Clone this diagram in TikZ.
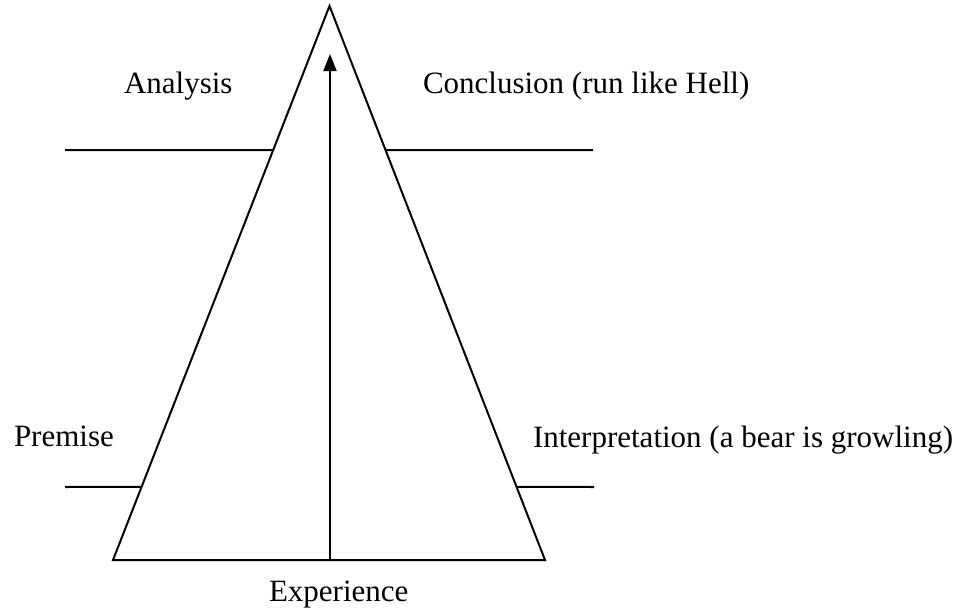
\documentclass[tikz,border=0pt]{standalone}
\usepackage{fontspec}
\setmainfont{Liberation Serif}
\usetikzlibrary{calc,arrows.meta}
\begin{document}
\begin{tikzpicture}[x=1pt,y=-1pt, line width=2pt,
  lbl/.style={anchor=base west, inner sep=0pt, font=\fontsize{31}{37}\selectfont}]
\useasboundingbox (0,0) rectangle (975,608);
\coordinate (apex) at (329.5,6);
\coordinate (bl) at (113,560);
\coordinate (br) at (545,560);
\draw[line join=miter] (apex) -- (bl) -- (br) -- cycle;
\coordinate (ul) at (65,150);
\coordinate (ur) at (593,150);
\coordinate (ll) at (65,487);
\coordinate (lr) at (594,487);
\coordinate (ulx) at ($(apex)!0.26!(bl)$);
\coordinate (urx) at ($(apex)!0.26!(br)$);
\coordinate (llx) at ($(apex)!0.868!(bl)$);
\coordinate (lrx) at ($(apex)!0.868!(br)$);
\draw (ul) -- (ulx);
\draw (urx) -- (ur);
\draw (ll) -- (llx);
\draw (lrx) -- (lr);
\coordinate (abot) at (330,560);
\coordinate (atop) at (330,54);
\draw[-{Triangle[length=17pt,width=13pt]}] (abot) -- (atop);
\node[lbl] (analysis) at (123,93) {Analysis};
\node[lbl] (conclusion) at (422,93) {Conclusion (run like Hell)};
\node[lbl] (premise) at (13,446) {Premise};
\node[lbl] (interp) at (532,447) {Interpretation (a bear is growling)};
\node[lbl] (exp) at (268,601) {Experience};
\end{tikzpicture}
\end{document}
